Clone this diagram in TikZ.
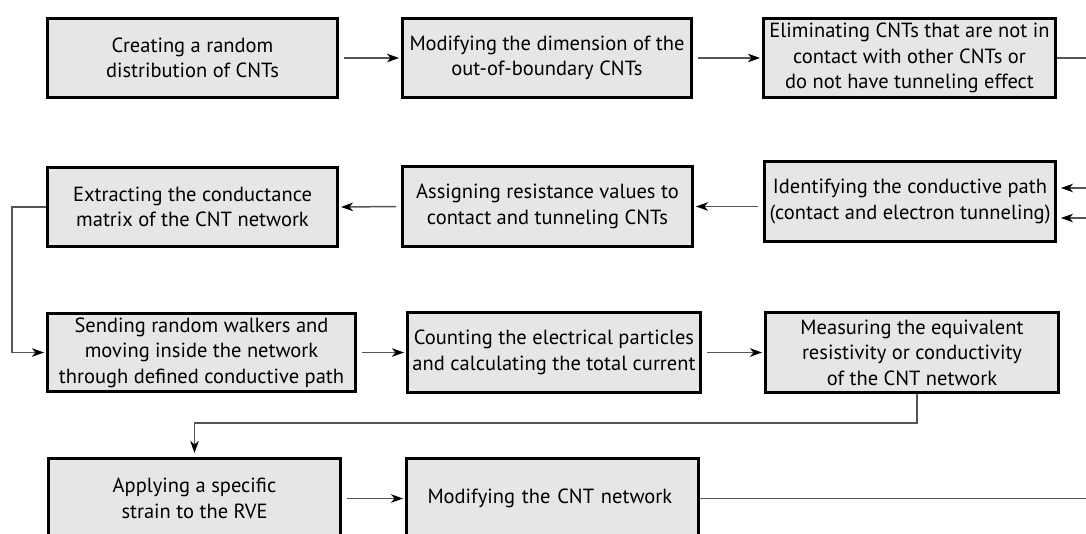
\documentclass[tikz,border=0pt]{standalone}
\usepackage{fontspec}
\setmainfont{PT Sans}
\usetikzlibrary{arrows.meta, positioning}

\definecolor{boxgray}{HTML}{E6E6E6}
\definecolor{linegray}{HTML}{555555}

\tikzset{
  procbox/.style={draw=black, line width=3pt, fill=boxgray, align=center,
    inner sep=1pt, text=black, font=\fontsize{20.5}{25.5}\selectfont},
  link/.style={draw=linegray, line width=1.5pt},
  flow/.style={link, -{Stealth[length=12pt, width=8.5pt, inset=3.5pt, color=black]},
    shorten <=5pt, shorten >=2pt}
}

\begin{document}
\begin{tikzpicture}[x=1pt, y=-1pt]
		\useasboundingbox (0,0) rectangle (1086,534);
		\clip (0,0) rectangle (1086,534);
		
		% row 1
		\node[procbox, minimum width=290pt, minimum height=79pt] (create) at (192.5,58) {Creating a random\\distribution of CNTs};
		\node[procbox, minimum width=289pt, minimum height=79pt] (modify) at (547,58) {Modifying the dimension of the\\out-of-boundary CNTs};
		\node[procbox, minimum width=292pt, minimum height=79pt] (elim) at (909.5,58) {Eliminating CNTs that are not in\\contact with other CNTs or\\do not have tunneling effect};
		
		% row 2
		\node[procbox, minimum width=290pt, minimum height=79pt] (extract) at (192.5,207) {Extracting the conductance\\matrix of the CNT network};
		\node[procbox, minimum width=290pt, minimum height=80pt] (assign) at (547.5,206.5) {Assigning resistance values to\\contact and tunneling CNTs};
		\node[procbox, minimum width=291pt, minimum height=80pt] (ident) at (910,201.5) {Identifying the conductive path\\(contact and electron tunneling)};
		
		% row 3
		\node[procbox, minimum width=308pt, minimum height=78pt] (send) at (201.5,352.5) {Sending random walkers and\\moving inside the network\\through defined conductive path};
		\node[procbox, minimum width=293pt, minimum height=80pt] (count) at (554,352.5) {Counting the electrical particles\\and calculating the total current};
		\node[procbox, minimum width=293pt, minimum height=80pt] (measure) at (912,352.5) {Measuring the equivalent\\resistivity or conductivity\\of the CNT network};
		
		% row 4
		\node[procbox, minimum width=292pt, minimum height=80pt] (strain) at (194.5,498.5) {Applying a specific\\strain to the RVE};
		\node[procbox, minimum width=292pt, minimum height=80pt, text width=250pt, align=left] (network) at (552.5,498.5) {Modifying the CNT network};
		
		\coordinate (outA) at (1086,58);
		\coordinate (inB1) at (1086,188);
		\coordinate (inB2) at (1086,218);
		\coordinate (outD) at (1086,498.5);
		
		\draw[flow] (create.east) -- (modify.west);
		\draw[flow] (modify.east) -- (elim.west);
		\draw[link] (elim.east) -- (outA);
		
		\draw[flow, shorten <=0pt, shorten >=4pt] (inB1) -- (inB1 -| ident.east);
		\draw[flow, shorten <=0pt, shorten >=4pt] (inB2) -- (inB2 -| ident.east);
		\draw[flow] (assign.east -| ident.west) -- (assign.east);
		\draw[flow] (assign.west) -- (extract.west -| extract.east);
		\draw[flow, shorten <=0pt] (extract.west) -- ++(-34,0) |- (send.west);
		
		\draw[flow] (send.east) -- (count.west);
		\draw[flow] (count.east) -- (measure.west);
		\draw[flow, shorten <=0pt, shorten >=4pt] ([xshift=5pt]measure.south) -- ++(0,29) -| (strain.north);
		
		\draw[flow] (strain.east) -- (network.west);
		\draw[link] (network.east) -- (outD);
\end{tikzpicture}
\end{document}
